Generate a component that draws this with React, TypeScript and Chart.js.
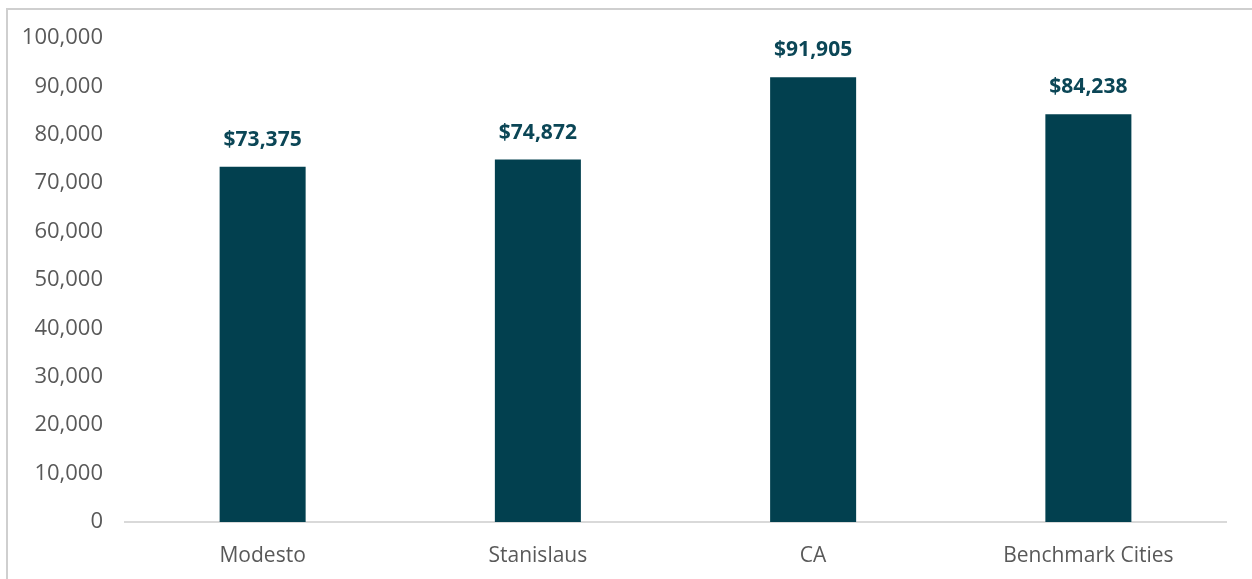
import React, { useEffect, useRef } from "react";
import { Chart, registerables } from "chart.js";

Chart.register(...registerables);

const categories = ["Modesto", "Stanislaus", "CA", "Benchmark Cities"];
const incomeValues = [73375, 74872, 91905, 84238];
const yMin = 0;
const yMax = 100000;
const yStep = 10000;

const BAR_COLOR = "#02404F";
const LABEL_COLOR = "#0B4656";
const TICK_COLOR = "#595959";
const FONT = "'Open Sans', 'DejaVu Sans', sans-serif";

const valueLabelPlugin = {
  id: "valueLabels",
  afterDatasetsDraw(chart: any) {
    const ctx = chart.ctx;
    const meta = chart.getDatasetMeta(0);
    const data = chart.data.datasets[0].data as number[];
    ctx.save();
    ctx.font = `bold 21px ${FONT}`;
    ctx.fillStyle = LABEL_COLOR;
    ctx.textAlign = "center";
    ctx.textBaseline = "middle";
    meta.data.forEach((bar: any, i: number) => {
      const txt = "$" + data[i].toLocaleString("en-US");
      ctx.fillText(txt, bar.x, bar.y - 27);
    });
    ctx.restore();
  },
};

export default function App() {
  const canvasRef = useRef<HTMLCanvasElement | null>(null);

  useEffect(() => {
    document.body.style.overflow = "hidden";
    const canvas = canvasRef.current;
    if (!canvas) return;
    const chart = new Chart(canvas, {
      type: "bar",
      data: {
        labels: categories,
        datasets: [
          {
            data: incomeValues,
            backgroundColor: BAR_COLOR,
            barPercentage: 0.3125,
            categoryPercentage: 1,
          },
        ],
      },
      options: {
        responsive: false,
        animation: false,
        devicePixelRatio: 1,
        layout: { padding: { top: 38, right: 26, bottom: 0, left: 0 } },
        plugins: {
          legend: { display: false },
          tooltip: { enabled: false },
        },
        scales: {
          x: {
            grid: { display: false },
            border: { display: true, color: "#D9D9D9", width: 2 },
            afterFit(scale: any) {
              scale.height = 57;
            },
            ticks: {
              color: TICK_COLOR,
              font: { family: FONT, size: 21 },
              padding: 13,
              maxRotation: 0,
            },
          },
          y: {
            min: yMin,
            max: yMax,
            grid: { display: false },
            border: { display: false },
            afterFit(scale: any) {
              scale.width = 125;
            },
            ticks: {
              stepSize: yStep,
              color: TICK_COLOR,
              font: { family: FONT, size: 22 },
              padding: 14,
              callback: (v: any) => Number(v).toLocaleString("en-US"),
            },
          },
        },
      },
      plugins: [valueLabelPlugin],
    });
    return () => chart.destroy();
  }, []);

  return (
    <>
      <div
        style={{
          position: "fixed",
          left: 6,
          top: 8,
          width: 1400,
          height: 800,
          border: "2px solid #CFCFCF",
          boxSizing: "border-box",
        }}
      />
      <canvas
        ref={canvasRef}
        width={1252}
        height={579}
        style={{ position: "fixed", left: 0, top: 0, width: 1252, height: 579 }}
      />
    </>
  );
}
